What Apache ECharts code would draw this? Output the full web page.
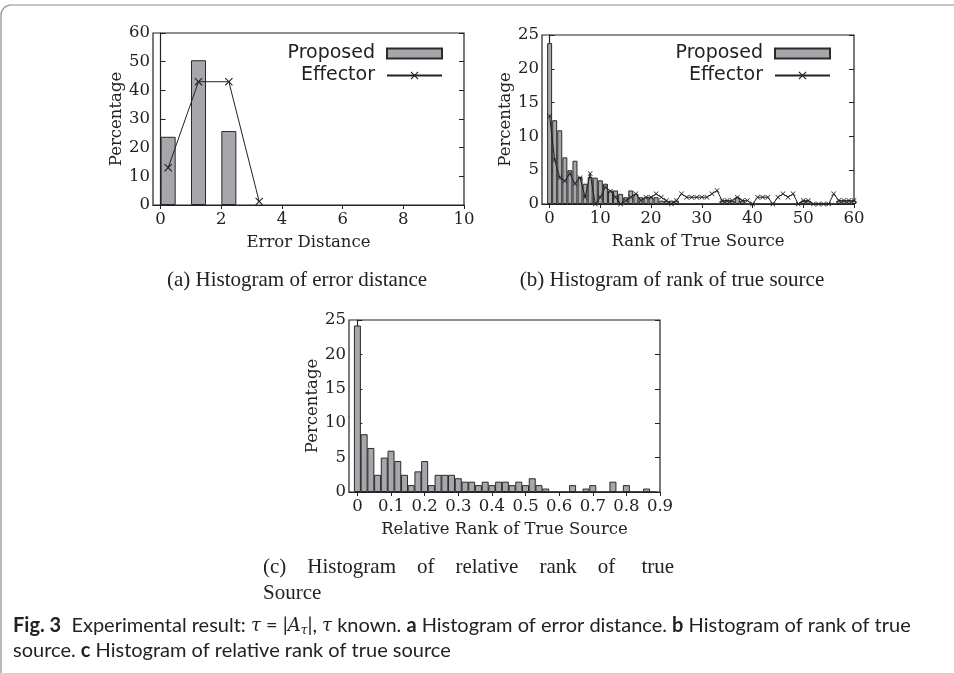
<!DOCTYPE html>
<html>
<head>
<meta charset="utf-8">
<script src="https://cdn.jsdelivr.net/npm/echarts@6/dist/echarts.min.js"></script>
<style>
html, body { margin: 0; padding: 0; background: #fff; }
#main { width: 954px; height: 673px; }
</style>
</head>
<body>
<div id="main"></div>
<script>
// (a) histogram of error distance
var errBins = [0.25, 1.25, 2.25];
var errProposed = [23.8, 50.5, 25.8];
var errEffX = [0.25, 1.25, 2.25, 3.25];
var errEffector = [13, 43, 43, 1.2];
var errTicks = [0, 2, 4, 6, 8, 10];

// (b) histogram of rank of true source, index = rank 0..60
var rankProposed = [23.8, 12.4, 10.9, 6.9, 5.0, 6.4, 4.0, 3.0, 4.0, 3.9,
    3.5, 3.0, 2.0, 2.0, 1.5, 1.0, 2.0, 1.5, 1.0, 1.0,
    1.0, 1.0, 0.5, 0.5, 0.5, 0.5, 0, 0, 0, 0,
    0, 0, 0, 0, 0.5, 0.5, 0.5, 1.0, 0.5, 0,
    0, 0, 0, 0, 0, 0, 0, 0, 0, 0,
    0.5, 0.5, 0, 0, 0, 0, 0, 0.5, 0.5, 0.5, 0.5];
var rankEffector = [13.0, 6.5, 3.9, 3.4, 4.5, 3.0, 3.9, 1.0, 4.5, 0.0,
    1.0, 2.5, 1.9, 1.0, 0.0, 0.5, 1.0, 1.5, 0.5, 1.0,
    1.0, 1.5, 1.0, 0.5, 0.0, 0.5, 1.5, 1.0, 1.0, 1.0,
    1.0, 1.0, 1.5, 2.0, 0.5, 0.5, 0.5, 1.0, 0.5, 0.5,
    0.0, 1.0, 1.0, 1.0, 0.0, 1.0, 1.5, 1.0, 1.5, 0.0,
    0.5, 0.5, 0.0, 0.0, 0.0, 0.0, 1.5, 0.5, 0.5, 0.5, 0.5];
var rankTicks = [0, 10, 20, 30, 40, 50, 60];

// (c) histogram of relative rank of true source
var relBins = [0, 0.02, 0.04, 0.06, 0.08, 0.10, 0.12, 0.14, 0.16, 0.18,
    0.20, 0.22, 0.24, 0.26, 0.28, 0.30, 0.32, 0.34, 0.36, 0.38,
    0.40, 0.42, 0.44, 0.46, 0.48, 0.50, 0.52, 0.54, 0.56, 0.58,
    0.60, 0.62, 0.64, 0.66, 0.68, 0.70, 0.72, 0.74, 0.76, 0.78,
    0.80, 0.82, 0.84, 0.86, 0.88];
var relProposed = [24.2, 8.4, 6.4, 2.5, 5.0, 6.0, 4.5, 2.5, 1.0, 3.0,
    4.5, 1.0, 2.5, 2.5, 2.5, 2.0, 1.5, 1.5, 1.0, 1.5,
    1.0, 1.5, 1.5, 1.0, 1.5, 1.0, 2.0, 1.0, 0.5, 0,
    0, 0, 1.0, 0, 0.5, 1.0, 0, 0, 1.5, 0,
    1.0, 0, 0, 0.5, 0];
var relTicks = [0, 0.1, 0.2, 0.3, 0.4, 0.5, 0.6, 0.7, 0.8, 0.9];

var ink = '#222';
var serif = 'DejaVu Serif';
var fs = 16.5;
var barStyle = { color: '#a6a6ab', borderColor: '#2a2a2a', borderWidth: 1 };
var xMark = 'path://M0,1L1,0L5,4L9,0L10,1L6,5L10,9L9,10L5,6L1,10L0,9L4,5Z';

function pairs(xs, ys) {
    return ys.map(function (v, i) { return [xs[i], v]; });
}
function byIndex(ys) {
    return ys.map(function (v, i) { return [i, v]; });
}

function xAxis(grid, min, max, ticks, name) {
    return {
        type: 'value', gridIndex: grid, min: min, max: max,
        name: name, nameLocation: 'middle', nameGap: 29,
        nameTextStyle: { fontFamily: serif, fontSize: fs, color: ink },
        axisLine: { show: true, onZero: false, lineStyle: { color: ink, width: 1.2 } },
        axisTick: { customValues: ticks, length: 4, lineStyle: { color: ink } },
        axisLabel: { customValues: ticks, fontFamily: serif, fontSize: fs, color: ink, margin: 6 },
        splitLine: { show: false }
    };
}
function yAxis(grid, max, interval, name) {
    return {
        type: 'value', gridIndex: grid, min: 0, max: max, interval: interval,
        name: name, nameLocation: 'middle', nameGap: 28,
        nameTextStyle: { fontFamily: serif, fontSize: fs, color: ink },
        axisLine: { show: true, lineStyle: { color: ink, width: 1.2 } },
        axisTick: { inside: true, length: 5, lineStyle: { color: ink } },
        axisLabel: { fontFamily: serif, fontSize: fs, color: ink, margin: 3 },
        splitLine: { show: false }
    };
}
function yMirror(grid, max, interval) {
    return {
        type: 'value', gridIndex: grid, position: 'right', min: 0, max: max, interval: interval,
        axisLine: { show: false },
        axisTick: { inside: true, length: 5, lineStyle: { color: ink } },
        axisLabel: { show: false },
        splitLine: { show: false }
    };
}
function legend(right, names) {
    return {
        orient: 'vertical', align: 'right', right: right, top: 44,
        padding: 0, itemWidth: 55, itemHeight: 10, itemGap: 3,
        data: [{ name: names[0], icon: 'rect' }, { name: names[1] }],
        formatter: function (n) { return n.trim(); },
        textStyle: { fontFamily: 'DejaVu Sans', fontSize: 19, color: ink, lineHeight: 19, padding: [0, 7, 0, 0] }
    };
}

var chart = echarts.init(document.getElementById('main'));

var capFont = '21px "Liberation Serif"';

var option = {
    animation: false,
    backgroundColor: '#fff',
    grid: [
        { left: 153, top: 33, width: 311, height: 172, show: true, borderColor: ink, borderWidth: 1.2 },
        { left: 542, top: 35, width: 312, height: 169, show: true, borderColor: ink, borderWidth: 1.2 },
        { left: 349, top: 320, width: 311, height: 172, show: true, borderColor: ink, borderWidth: 1.2 }
    ],
    xAxis: [
        xAxis(0, -0.25, 10, errTicks, 'Error Distance'),
        xAxis(1, -1.5, 60, rankTicks, 'Rank of True Source'),
        xAxis(2, -0.025, 0.9, relTicks, 'Relative Rank of True Source')
    ],
    yAxis: [
        yAxis(0, 60, 10, 'Percentage'),
        yMirror(0, 60, 10),
        yAxis(1, 25, 5, 'Percentage'),
        yMirror(1, 25, 5),
        yAxis(2, 25, 5, 'Percentage'),
        yMirror(2, 25, 5)
    ],
    legend: [
        legend(511, ['Proposed', 'Effector']),
        legend(123, ['Proposed ', 'Effector '])
    ],
    series: [
        {
            name: 'Proposed', type: 'bar', xAxisIndex: 0, yAxisIndex: 0,
            barWidth: 15, itemStyle: barStyle, data: pairs(errBins, errProposed)
        },
        {
            name: 'Effector', type: 'line', xAxisIndex: 0, yAxisIndex: 0,
            symbol: xMark, symbolSize: 8,
            lineStyle: { color: ink, width: 1 }, itemStyle: { color: ink },
            data: pairs(errEffX, errEffector)
        },
        {
            name: 'Proposed ', type: 'bar', xAxisIndex: 1, yAxisIndex: 2,
            barWidth: 5, itemStyle: barStyle, data: byIndex(rankProposed)
        },
        {
            name: 'Effector ', type: 'line', xAxisIndex: 1, yAxisIndex: 2,
            symbol: xMark, symbolSize: 5,
            lineStyle: { color: ink, width: 1 }, itemStyle: { color: ink },
            data: byIndex(rankEffector)
        },
        {
            name: 'Relative', type: 'bar', xAxisIndex: 2, yAxisIndex: 4,
            barWidth: 7, itemStyle: barStyle, data: pairs(relBins, relProposed)
        }
    ],
    graphic: [
        {
            type: 'rect', silent: true,
            shape: { x: 1, y: 5, width: 1100, height: 1000, r: [10, 0, 0, 0] },
            style: { fill: 'none', stroke: '#8c8c8c', lineWidth: 1.2 }
        },
        {
            type: 'text', x: 297, y: 280,
            style: { text: '(a) Histogram of error distance', font: capFont, fill: ink, align: 'center', verticalAlign: 'middle' }
        },
        {
            type: 'text', x: 672, y: 280,
            style: { text: '(b) Histogram of rank of true source', font: capFont, fill: ink, align: 'center', verticalAlign: 'middle' }
        },
        {
            type: 'text', x: 263, y: 567,
            style: { text: '(c)    Histogram    of    relative    rank    of     true', font: capFont, fill: ink, align: 'left', verticalAlign: 'middle' }
        },
        {
            type: 'text', x: 263, y: 593,
            style: { text: 'Source', font: capFont, fill: ink, align: 'left', verticalAlign: 'middle' }
        },
        {
            type: 'text', x: 13, y: 626,
            style: {
                text: '{b|Fig. 3}  Experimental result: {i|τ} = |{i|A}{s|τ}|, {i|τ} known. {b|a} Histogram of error distance. {b|b} Histogram of rank of true',
                font: '20px Lato', fill: ink, verticalAlign: 'middle',
                rich: {
                    b: { fontWeight: 'bold', fontSize: 20, fontFamily: 'Lato' },
                    i: { fontStyle: 'italic', fontSize: 18, fontFamily: 'DejaVu Serif' },
                    s: { fontStyle: 'italic', fontSize: 12, fontFamily: 'DejaVu Serif', padding: [9, 0, 0, 0] }
                }
            }
        },
        {
            type: 'text', x: 13, y: 651,
            style: {
                text: 'source. {b|c} Histogram of relative rank of true source',
                font: '20px Lato', fill: ink, verticalAlign: 'middle',
                rich: { b: { fontWeight: 'bold', fontSize: 20, fontFamily: 'Lato' } }
            }
        }
    ]
};

chart.setOption(option);
</script>
</body>
</html>
